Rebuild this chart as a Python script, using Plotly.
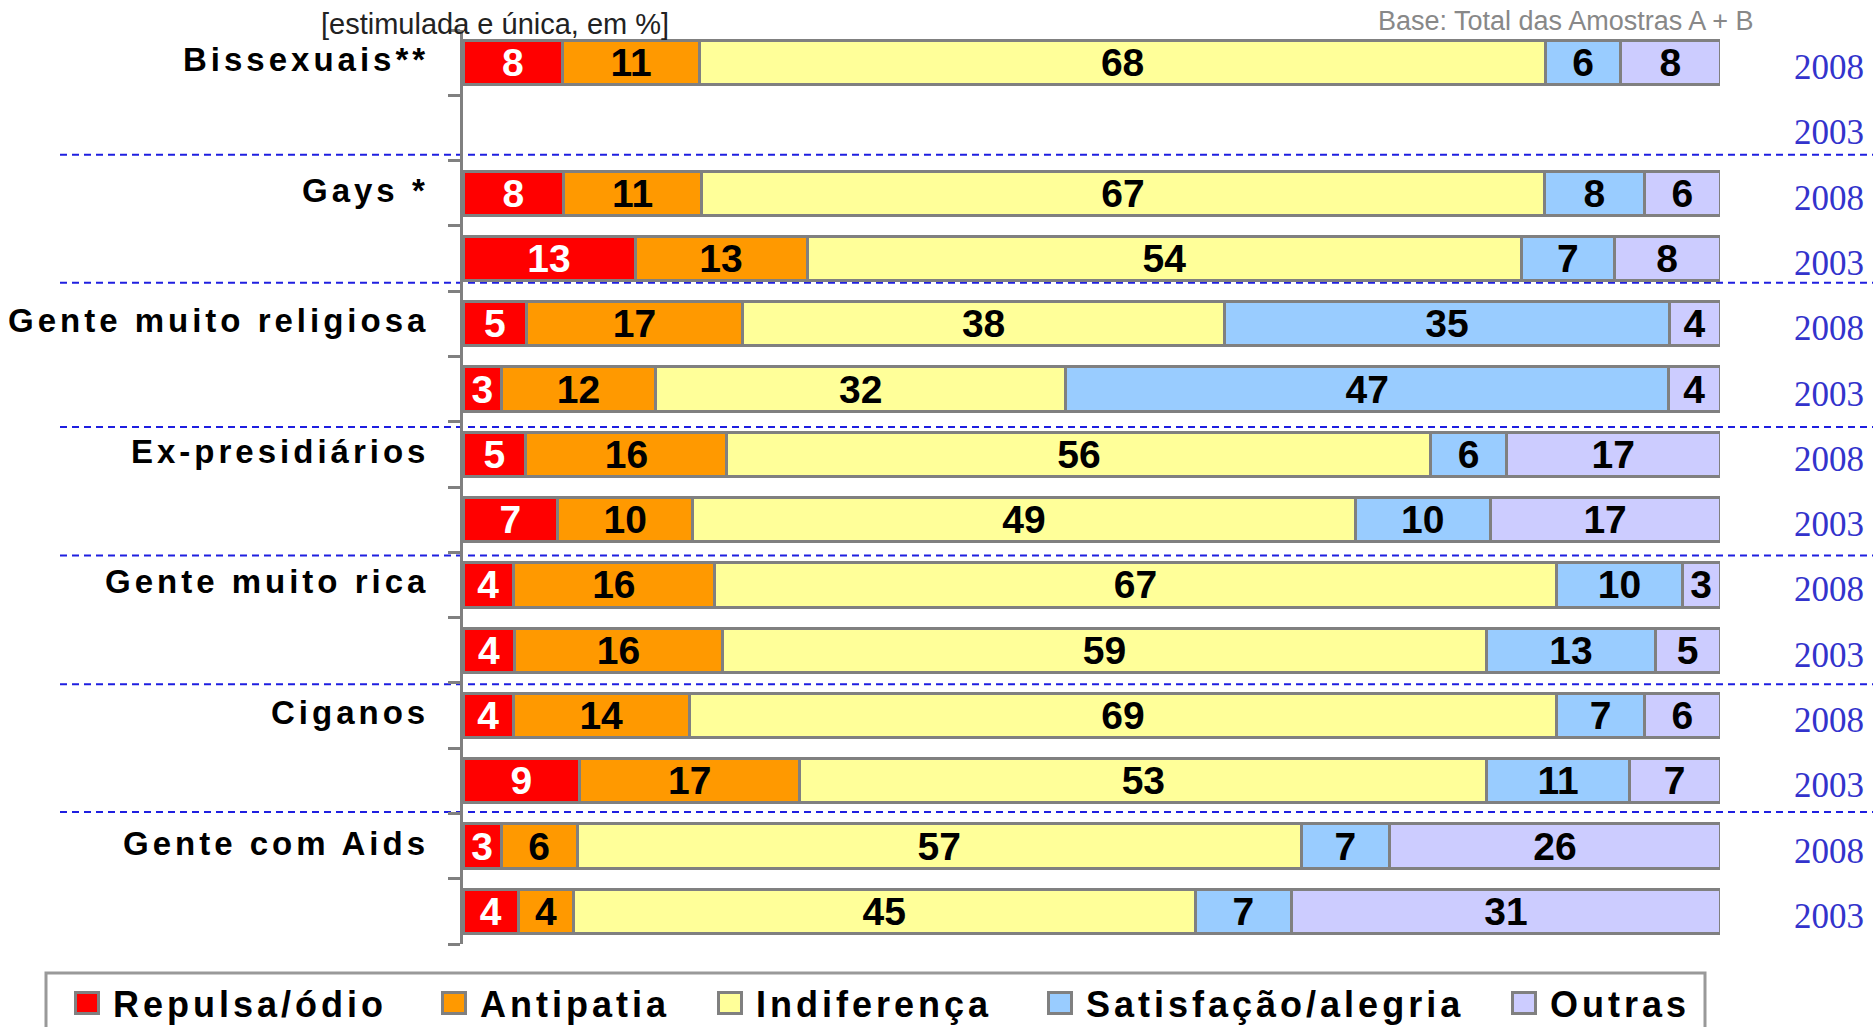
import plotly.graph_objects as go

# ---------------- data ----------------
categories = ["Bissexuais**", "Gays *", "Gente muito religiosa", "Ex-presidiários",
              "Gente muito rica", "Ciganos", "Gente com Aids"]
years = ["2008", "2003"]
series = ["Repulsa/ódio", "Antipatia", "Indiferença", "Satisfação/alegria", "Outras"]

repulsa_2008 = [8, 8, 5, 5, 4, 4, 3]
repulsa_2003 = [None, 13, 3, 7, 4, 9, 4]
antipatia_2008 = [11, 11, 17, 16, 16, 14, 6]
antipatia_2003 = [None, 13, 12, 10, 16, 17, 4]
indiferenca_2008 = [68, 67, 38, 56, 67, 69, 57]
indiferenca_2003 = [None, 54, 32, 49, 59, 53, 45]
satisfacao_2008 = [6, 8, 35, 6, 10, 7, 7]
satisfacao_2003 = [None, 7, 47, 10, 13, 11, 7]
outras_2008 = [8, 6, 4, 17, 3, 6, 26]
outras_2003 = [None, 8, 4, 17, 5, 7, 31]

title_note = "[estimulada e única, em %]"
base_note = "Base: Total das Amostras A + B"

# ---------------- styles ----------------
colors = ["#FF0000", "#FF9900", "#FFFF99", "#99CCFF", "#CCCCFF"]
text_colors = ["#FFFFFF", "#000000", "#000000", "#000000", "#000000"]
SANS = "Arial, 'Liberation Sans', sans-serif"
SERIF = "'Times New Roman', 'Liberation Serif', serif"
GRAY = "#808080"

series_data = [
    (repulsa_2008, repulsa_2003),
    (antipatia_2008, antipatia_2003),
    (indiferenca_2008, indiferenca_2003),
    (satisfacao_2008, satisfacao_2003),
    (outras_2008, outras_2003),
]

n_slots = len(categories) * len(years)
slot_y = []
for ci in range(len(categories)):
    for yi in range(len(years)):
        slot_y.append(ci * len(years) + yi)

fig = go.Figure()
for k, name in enumerate(series):
    v08, v03 = series_data[k]
    xs = []
    for ci in range(len(categories)):
        xs.append(v08[ci])
        xs.append(v03[ci])
    fig.add_trace(go.Bar(
        orientation="h",
        y=slot_y,
        x=xs,
        name=name,
        showlegend=False,
        legendgroup=name,
        marker=dict(color=colors[k], line=dict(color=GRAY, width=3)),
        width=0.68,
        text=[("" if v is None else str(v)) for v in xs],
        textposition="inside",
        insidetextanchor="middle",
        textangle=0,
        constraintext="none",
        textfont=dict(family=SANS, size=39, color=text_colors[k], weight="bold"),
        hoverinfo="skip",
    ))

# legend entries (one legend per entry for exact spacing)
for k, name in enumerate(series):
    fig.add_trace(go.Scatter(
        x=[None], y=[None], mode="markers",
        name=f'<span style="letter-spacing:4px">{name}</span>',
        legendgroup=name,
        legend="legend" if k == 0 else f"legend{k + 1}",
        marker=dict(symbol="square", size=16, color=colors[k],
                    line=dict(color=colors[k], width=0)),
        hoverinfo="skip",
    ))

# geometry helpers (pixels -> paper)
L, R, T, B = 463, 153, 30, 83
W, H = 1873, 1027
pw, ph = W - L - R, H - T - B


def px_x(x):
    return (x - L) / pw


def px_y(y):
    return (H - B - y) / ph


annotations = []
for ci, cat in enumerate(categories):
    annotations.append(dict(
        x=px_x(431), xref="paper", y=ci * len(years), yref="y",
        text=f'<span style="letter-spacing:4px">{cat}</span>',
        xanchor="right", yanchor="middle", showarrow=False, yshift=3,
        font=dict(family=SANS, size=33, color="#000000", weight="bold"),
    ))
    for yi, yr in enumerate(years):
        annotations.append(dict(
            x=px_x(1829), xref="paper", y=ci * len(years) + yi, yref="y",
            text=yr, xanchor="center", yanchor="middle", showarrow=False, yshift=-5,
            font=dict(family=SERIF, size=35, color="#3333CC"),
        ))

annotations.append(dict(
    x=px_x(495), xref="paper", y=px_y(24), yref="paper", text=title_note,
    xanchor="center", yanchor="middle", showarrow=False,
    font=dict(family=SANS, size=29, color="#222222"),
))
annotations.append(dict(
    x=px_x(1565), xref="paper", y=px_y(21), yref="paper", text=base_note,
    xanchor="center", yanchor="middle", showarrow=False,
    font=dict(family=SANS, size=27, color="#888888"),
))

# group separators (slightly hand-placed in the original)
sep_offsets = [-0.09, -0.13, 0.08, 0.05, 0.02, -0.02]
shapes = []
for ci in range(1, len(categories)):
    yb = ci * len(years) - 0.5 + sep_offsets[ci - 1]
    shapes.append(dict(
        type="line", xref="paper", yref="y", x0=px_x(60), x1=px_x(1873), y0=yb, y1=yb,
        line=dict(color="#1F1FE0", width=2, dash="7px,5px"), layer="below",
    ))
# legend frame
shapes.append(dict(
    type="rect", xref="paper", yref="paper", x0=px_x(46), x1=px_x(1705),
    y0=px_y(973), y1=px_y(1060), line=dict(color="#999999", width=3),
    fillcolor="rgba(0,0,0,0)",
))

legend_centers = [87, 454, 730, 1060, 1524]
legend_cy = 1003
# larger legend swatches (bordered squares as in the original)
for k in range(len(series)):
    cx = legend_centers[k]
    shapes.append(dict(
        type="rect", xref="paper", yref="paper",
        x0=px_x(cx - 11.5), x1=px_x(cx + 11.5),
        y0=px_y(legend_cy + 10.5), y1=px_y(legend_cy - 10.5),
        line=dict(color=GRAY, width=3), fillcolor=colors[k],
    ))

legend_layout = {}
for k in range(len(series)):
    key = "legend" if k == 0 else f"legend{k + 1}"
    legend_layout[key] = dict(
        x=px_x(legend_centers[k] - 26), xref="paper", xanchor="left",
        y=px_y(legend_cy), yref="paper", yanchor="middle",
        orientation="h", bgcolor="rgba(0,0,0,0)", borderwidth=0,
        itemwidth=42, traceorder="normal",
        font=dict(family=SANS, size=36, color="#000000", weight="bold"),
    )

fig.update_layout(
    width=W, height=H,
    margin=dict(l=L, r=R, t=T, b=B, pad=0, autoexpand=False),
    barmode="stack", barnorm="percent",
    paper_bgcolor="white", plot_bgcolor="white",
    showlegend=True,
    xaxis=dict(range=[0, 100], visible=False, fixedrange=True),
    yaxis=dict(
        range=[n_slots - 0.5, -0.5], showgrid=False, zeroline=False,
        showline=True, linecolor=GRAY, linewidth=3,
        ticks="outside", ticklen=12, tickwidth=3, tickcolor=GRAY,
        tickmode="array", tickvals=[s - 0.5 for s in range(n_slots + 1)],
        showticklabels=False, fixedrange=True,
    ),
    annotations=annotations,
    shapes=shapes,
    **legend_layout,
)

fig.write_html("out.html", post_script="document.body.style.margin='0';",
               config={"displayModeBar": False})
